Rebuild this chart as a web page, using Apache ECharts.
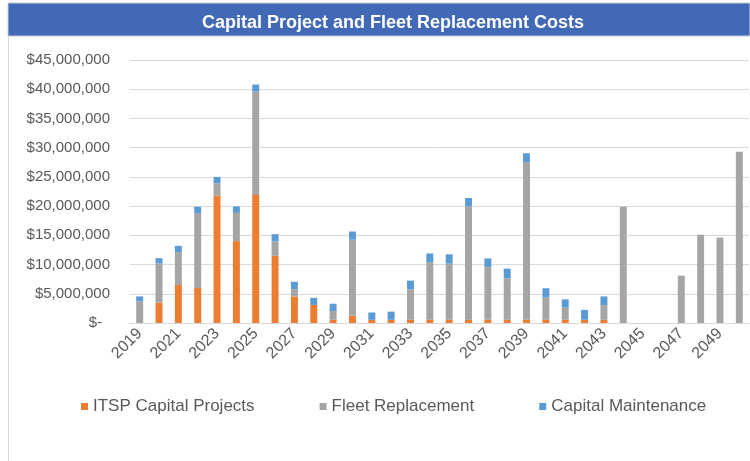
<!DOCTYPE html>
<html>
<head>
<meta charset="utf-8">
<script src="https://cdn.jsdelivr.net/npm/echarts@6/dist/echarts.min.js"></script>
<style>
  html, body { margin: 0; padding: 0; background: #fff; }
  #chart { width: 750px; height: 461px; }
</style>
</head>
<body>
<div id="chart"></div>
<script>
// years on the x axis
const years = ["2019","2020","2021","2022","2023","2024","2025","2026","2027","2028",
  "2029","2030","2031","2032","2033","2034","2035","2036","2037","2038",
  "2039","2040","2041","2042","2043","2044","2045","2046","2047","2048","2049","2050"];

// values in dollars
const itspCapital = [0, 3500000, 6500000, 6000000, 21800000, 14000000, 21900000, 11500000, 4550000, 3100000,
  550000, 1250000, 550000, 550000, 550000, 550000, 550000, 550000, 550000, 550000,
  550000, 550000, 550000, 550000, 550000, 0, 0, 0, 0, 0, 0, 0];
const fleetReplacement = [3700000, 6700000, 5600000, 12800000, 2100000, 4850000, 17700000, 2450000, 1250000, 0,
  1500000, 13000000, 0, 0, 5200000, 9850000, 9600000, 19400000, 9000000, 7100000,
  26900000, 3800000, 2100000, 0, 2500000, 19900000, 0, 0, 8100000, 15100000, 14600000, 29300000];
const capitalMaintenance = [850000, 900000, 1100000, 1100000, 1100000, 1100000, 1200000, 1250000, 1250000, 1200000,
  1250000, 1400000, 1250000, 1400000, 1500000, 1500000, 1600000, 1450000, 1500000, 1650000,
  1600000, 1600000, 1400000, 1700000, 1500000, 0, 0, 0, 0, 0, 0, 0];

const chart = echarts.init(document.getElementById("chart"));

const txt = "#595959";
const font = "Liberation Sans";

function money(v) {
  if (v === 0) return "{z|$-}";
  return "$" + v.toLocaleString("en-US");
}

const option = {
  animation: false,
  textStyle: { fontFamily: font },
  graphic: [
    // title band
    { type: "rect", shape: { x: 8, y: 3, width: 742, height: 33 },
      style: { fill: "#4169B6", stroke: "#C9CED6", lineWidth: 1 }, z: 0 },
    // left frame line
    { type: "line", shape: { x1: 8.5, y1: 36, x2: 8.5, y2: 461 },
      style: { stroke: "#D9D9D9", lineWidth: 1 } }
  ],
  title: {
    text: "Capital Project and Fleet Replacement Costs",
    left: 388,
    top: 9,
    textAlign: "center",
    textStyle: { color: "#fff", fontSize: 18, fontWeight: "bold", fontFamily: font }
  },
  legend: {
    left: 76,
    top: 393,
    itemWidth: 7,
    itemHeight: 7,
    itemGap: 65,
    icon: "rect",
    textStyle: { color: txt, fontSize: 17, fontFamily: font },
    data: ["ITSP Capital Projects", "Fleet Replacement", "Capital Maintenance"]
  },
  grid: { left: 130, right: 1, top: 60, bottom: 138 },
  xAxis: {
    type: "category",
    data: years,
    axisLine: { lineStyle: { color: "#D9D9D9" } },
    axisTick: { show: false },
    axisLabel: { interval: 1, rotate: 45, color: txt, fontSize: 16, margin: 8 }
  },
  yAxis: {
    type: "value",
    min: 0,
    max: 45000000,
    interval: 5000000,
    axisLine: { show: false },
    axisTick: { show: false },
    splitLine: { lineStyle: { color: "#D9D9D9" } },
    axisLabel: {
      color: txt, fontSize: 15, margin: 20,
      formatter: money,
      rich: { z: { color: txt, fontSize: 15, padding: [0, 8, 0, 0] } }
    }
  },
  series: [
    { name: "ITSP Capital Projects", type: "bar", stack: "c", data: itspCapital,
      barWidth: "36%", itemStyle: { color: "#ED7D31" } },
    { name: "Fleet Replacement", type: "bar", stack: "c", data: fleetReplacement,
      itemStyle: { color: "#A5A5A5" } },
    { name: "Capital Maintenance", type: "bar", stack: "c", data: capitalMaintenance,
      itemStyle: { color: "#5B9BD5" } }
  ]
};

chart.setOption(option);
</script>
</body>
</html>
